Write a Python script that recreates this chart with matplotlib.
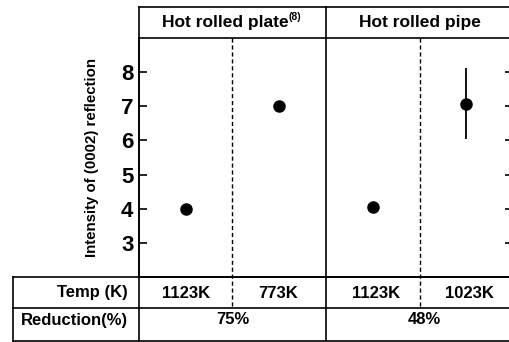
import numpy as np
import matplotlib
matplotlib.use("Agg")
import matplotlib.pyplot as plt
from matplotlib.lines import Line2D

plt.rcParams['font.family'] = ['Liberation Sans', 'DejaVu Sans']
plt.rcParams['font.weight'] = 'bold'

# data
groups = ["Hot rolled plate", "Hot rolled pipe"]
temps = ["1123K", "773K", "1123K", "1023K"]
reductions = ["75%", "48%"]
intensity = [4.0, 7.0, 4.05, 7.08]
err = [0, 0, 0, 1.05]
yticks = [3, 4, 5, 6, 7, 8]

W, H = 510, 342
fig = plt.figure(figsize=(W / 100, H / 100), dpi=100)


def fx(px):
    return px / W


def fy(py):
    return 1 - py / H


def hline(y, x0, x1, lw=1.2, **kw):
    fig.add_artist(Line2D([fx(x0), fx(x1)], [fy(y), fy(y)], color="black", lw=lw, **kw))


def vline(x, y0, y1, lw=1.2, **kw):
    fig.add_artist(Line2D([fx(x), fx(x)], [fy(y0), fy(y1)], color="black", lw=lw, **kw))


left, right, top, bottom = 139, 513, 38, 277
ax = fig.add_axes([fx(left), fy(bottom), fx(right) - fx(left), fy(top) - fy(bottom)])
xs = np.arange(len(intensity)) + 0.5
ax.errorbar(xs, intensity, yerr=err, fmt="o", color="black", ms=8, elinewidth=1.3, capsize=0)
ax.set_xlim(0, 4)
ax.set_ylim(2, 9)
ax.set_xticks([])
ax.set_yticks(yticks)
ax.tick_params(axis="y", direction="in", length=6, width=1.2, right=True, labelsize=16, pad=4)
for lab in ax.get_yticklabels():
    lab.set_fontweight("bold")
for s in ax.spines.values():
    s.set_linewidth(1.2)
ax.set_ylabel("Intensity of (0002) reflection", fontsize=10.8, fontweight="bold", labelpad=16)

# header and table lines
hline(7, left, right)
vline(left, 7, 341)
vline(326, 7, 341)
for x in (232, 420):
    vline(x, top, 308, lw=1.0, ls=(0, (3, 2)))
hline(277, 13, right)
hline(308, 13, right)
hline(340.5, 13, right)
vline(13, 277, 341)

# header text
t = fig.text(fx(225), fy(23), groups[0], ha="center", va="center", fontsize=12.5, fontweight="bold")
ax.annotate("(8)", xy=(1.0, 1.2), xycoords=t, ha="left", va="top", fontsize=7.5, fontweight="bold")
fig.text(fx(420), fy(23), groups[1], ha="center", va="center", fontsize=12.5, fontweight="bold")

# table text
fig.text(fx(128), fy(293), "Temp (K)", ha="right", va="center", fontsize=12, fontweight="bold")
fig.text(fx(128), fy(320), "Reduction(%)", ha="right", va="center", fontsize=12, fontweight="bold")
col_px = [186, 278, 376, 469]
for x, lab in zip(col_px, temps):
    fig.text(fx(x), fy(293), lab, ha="center", va="center", fontsize=12, fontweight="bold")
for x, lab in zip([233, 424], reductions):
    fig.text(fx(x), fy(320), lab, ha="center", va="center", fontsize=12, fontweight="bold")

fig.savefig("out.png", dpi=100)
